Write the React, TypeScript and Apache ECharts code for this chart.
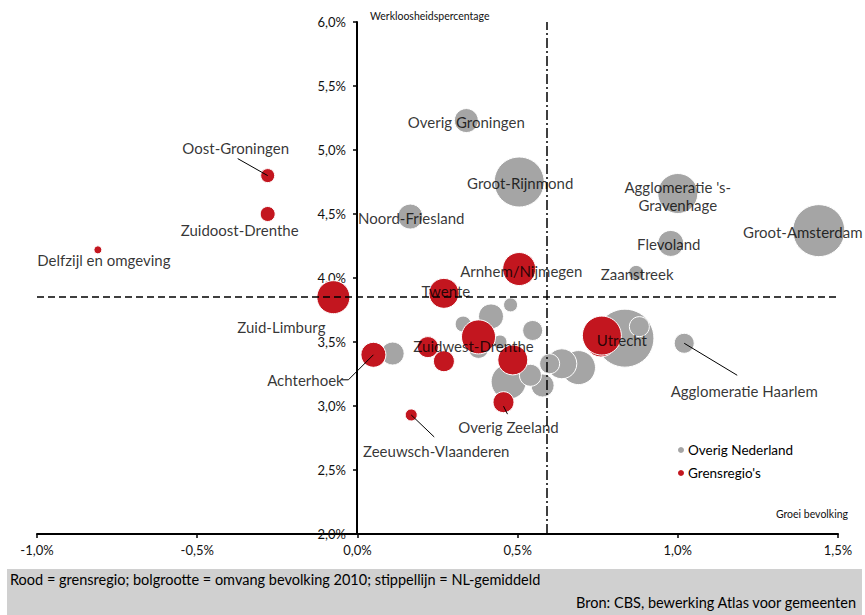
import React, { useEffect, useRef } from "react";
import * as echarts from "echarts";

// Overig Nederland (grey)
const greyNames = [
  "Overig Groningen", "Groot-Rijnmond", "Noord-Friesland", "Agglomeratie 's-\nGravenhage",
  "Flevoland", "Zaanstreek", "Groot-Amsterdam", "Agglomeratie Haarlem", "Utrecht",
  "", "", "", "", "", "", "", "", "", "", "", "", "Zuidwest-Drenthe", "",
];
const greyGrowth = [0.34, 0.505, 0.165, 1.0, 0.978, 0.87, 1.44, 1.02, 0.835, 0.88, 0.69, 0.638, 0.6, 0.578, 0.547, 0.478, 0.417, 0.33, 0.11, 0.472, 0.54, 0.378, 0.445];
const greyUnemp = [5.23, 4.75, 4.48, 4.66, 4.27, 4.04, 4.37, 3.49, 3.53, 3.62, 3.3, 3.33, 3.33, 3.16, 3.59, 3.79, 3.7, 3.64, 3.41, 3.19, 3.24, 3.45, 3.5];
const greySize = [24, 50, 25, 40, 26, 15, 52, 20, 58, 20, 34, 30, 20, 23, 20, 14, 25, 16, 23, 35, 22, 20, 14];

// Grensregio's (red)
const redNames = [
  "Oost-Groningen", "Zuidoost-Drenthe", "Delfzijl en omgeving", "Zuid-Limburg", "Twente",
  "Arnhem/Nijmegen", "Achterhoek", "", "", "", "", "Overig Zeeland", "Zeeuwsch-Vlaanderen", "", "",
];
const redGrowth = [-0.28, -0.28, -0.81, -0.075, 0.27, 0.505, 0.05, 0.22, 0.27, 0.378, 0.485, 0.456, 0.168, 0.76, 0.763];
const redUnemp = [4.8, 4.5, 4.22, 3.85, 3.88, 4.07, 3.4, 3.46, 3.35, 3.54, 3.36, 3.03, 2.93, 3.5, 3.55];
const redSize = [14, 15, 8, 33, 30, 33, 25, 21, 21, 34, 30, 21, 12, 30, 39];

const nlAvgGrowth = 0.59;
const nlAvgUnemp = 3.85;

const xTicks = { min: -1, max: 1.5, interval: 0.5 };
const yTicks = { min: 2, max: 6, interval: 0.5 };

// label offsets (px) relative to bubble centre
const labelOffsets: Record<string, [number, number]> = {
  "Oost-Groningen": [-32, -28],
  "Zuidoost-Drenthe": [-28, 16],
  "Delfzijl en omgeving": [6, 10],
  "Zuid-Limburg": [-52, 30],
  "Achterhoek": [-68, 25],
  "Overig Zeeland": [5, 25],
  "Zeeuwsch-Vlaanderen": [25, 36],
  "Agglomeratie Haarlem": [60, 48],
  "Groot-Amsterdam": [-16, 1],
  "Twente": [2, -2],
  "Arnhem/Nijmegen": [2, 2],
  "Zuidwest-Drenthe": [-5, -2],
  "Utrecht": [-3, 2],
  "Noord-Friesland": [1, 1],
  "Overig Groningen": [0, 1],
  "Groot-Rijnmond": [1, 1],
  "Flevoland": [-2, 1],
  "Zaanstreek": [1, 1],
  "Agglomeratie 's-\nGravenhage": [0, 2],
};
// leader line shapes (px, relative to bubble centre)
const leaderShapes: Record<string, [number, number][]> = {
  "Oost-Groningen": [[-30, -17], [0, 0]],
  "Achterhoek": [[-32, 25], [-25, 25], [0, 0]],
  "Overig Zeeland": [[0, 4], [4, 12]],
  "Zeeuwsch-Vlaanderen": [[0, 0], [23, 22]],
  "Agglomeratie Haarlem": [[0, 0], [53, 32]],
};

const FONT = "Lato, 'Open Sans', sans-serif";
const GREY = "#A5A5A5";
const RED = "#C3161F";

function buildData(xs: number[], ys: number[], sizes: number[]) {
  return xs.map((x, i) => [x, ys[i], sizes[i]]);
}

const fmt = (v: number) => v.toFixed(1).replace(".", ",") + "%";

export default function App() {
  const ref = useRef<HTMLDivElement>(null);
  useEffect(() => {
    if (!ref.current) return;
    const chart = echarts.init(ref.current, undefined, { renderer: "svg" });

    const labelled: any[] = [];
    const leaders: any[] = [];
    const collect = (names: string[], xs: number[], ys: number[], sizes: number[]) => {
      names.forEach((n, i) => {
        if (!n) return;
        const o = labelOffsets[n] || [0, 0];
        labelled.push({ name: n, value: [xs[i], ys[i], sizes[i]], label: { offset: o } });
        if (leaderShapes[n]) leaders.push({ name: n, value: [xs[i], ys[i]] });
      });
    };
    collect(greyNames, greyGrowth, greyUnemp, greySize);
    collect(redNames, redGrowth, redUnemp, redSize);

    chart.setOption({
      animation: false,
      textStyle: { fontFamily: FONT },
      grid: { left: 37, right: 27, top: 22, bottom: 81, containLabel: false },
      xAxis: {
        type: "value",
        min: xTicks.min,
        max: xTicks.max,
        interval: xTicks.interval,
        splitLine: { show: false },
        axisLine: { show: true, onZero: false, lineStyle: { color: "#000", width: 2 } },
        axisTick: { show: true, length: 4, lineStyle: { color: "#000", width: 1.5 } },
        axisLabel: { formatter: fmt, color: "#111", fontSize: 13, margin: 9, fontFamily: FONT },
      },
      yAxis: {
        type: "value",
        min: yTicks.min,
        max: yTicks.max,
        interval: yTicks.interval,
        position: "left",
        offset: -320,
        splitLine: { show: false },
        axisLine: { show: true, onZero: false, lineStyle: { color: "#000", width: 2 } },
        axisTick: { show: true, length: 4, lineStyle: { color: "#000", width: 1.5 } },
        axisLabel: { formatter: fmt, color: "#111", fontSize: 13, margin: 11, fontFamily: FONT },
      },
      legend: {
        orient: "vertical",
        left: 671,
        top: 438,
        itemWidth: 8,
        itemHeight: 8,
        itemGap: 9,
        icon: "circle",
        textStyle: { fontSize: 13.5, color: "#000", fontFamily: FONT, padding: [0, 0, 0, -2] },
        data: ["Overig Nederland", "Grensregio's"],
      },
      series: [
        {
          type: "line",
          data: [],
          silent: true,
          z: 1,
          markLine: {
            silent: true,
            symbol: "none",
            label: { show: false },
            data: [
              { yAxis: nlAvgUnemp, lineStyle: { color: "#000", width: 1.5, type: [7, 4] } },
              { xAxis: nlAvgGrowth, lineStyle: { color: "#000", width: 1.5, type: [10, 3, 2, 3] } },
            ],
          },
        },
        {
          name: "Overig Nederland",
          type: "scatter",
          z: 3,
          data: buildData(greyGrowth, greyUnemp, greySize),
          symbolSize: (v: number[]) => v[2],
          itemStyle: { color: GREY, borderColor: "#fff", borderWidth: 1, opacity: 1 },
        },
        {
          name: "Grensregio's",
          type: "scatter",
          z: 4,
          data: buildData(redGrowth, redUnemp, redSize),
          symbolSize: (v: number[]) => v[2],
          itemStyle: { color: RED, borderColor: "#fff", borderWidth: 1, opacity: 1 },
        },
        {
          name: "leaders",
          type: "custom",
          z: 5,
          silent: true,
          data: leaders,
          renderItem: (params: any, api: any) => {
            const c = api.coord([api.value(0), api.value(1)]);
            const shape = leaderShapes[leaders[params.dataIndex].name];
            return {
              type: "polyline",
              shape: { points: shape.map(([dx, dy]) => [c[0] + dx, c[1] + dy]) },
              style: { stroke: "#000", lineWidth: 1, fill: null },
            };
          },
        },
        {
          name: "labels",
          type: "scatter",
          z: 6,
          silent: true,
          data: labelled,
          symbolSize: (v: number[]) => v[2],
          itemStyle: { color: "rgba(0,0,0,0)", borderWidth: 0 },
          label: {
            show: true,
            position: "inside",
            color: "#000",
            fontSize: 15,
            fontFamily: FONT,
            lineHeight: 18,
            formatter: (p: any) => p.name,
          },
        },
      ],
      graphic: [
        {
          type: "text",
          left: 370,
          top: 10,
          style: { text: "Werkloosheidspercentage", fontSize: 10.5, fill: "#111", fontFamily: FONT },
        },
        {
          type: "text",
          right: 17,
          top: 508,
          style: { text: "Groei bevolking", fontSize: 10.5, fill: "#111", fontFamily: FONT },
        },
        {
          type: "rect",
          shape: { x: 7, y: 569, width: 855, height: 46 },
          style: { fill: "#D0D0D0" },
          z: 0,
        },
        {
          type: "text",
          x: 10,
          y: 572,
          style: {
            text: "Rood = grensregio; bolgrootte = omvang bevolking 2010; stippellijn = NL-gemiddeld",
            fontSize: 14.5,
            fill: "#000",
            fontFamily: FONT,
          },
        },
        {
          type: "text",
          x: 856,
          y: 595,
          style: {
            text: "Bron: CBS, bewerking Atlas voor gemeenten",
            fontSize: 14.5,
            fill: "#000",
            fontFamily: FONT,
            align: "right",
          },
        },
      ],
    });
    return () => chart.dispose();
  }, []);
  return (
    <div
      ref={ref}
      style={{ position: "absolute", left: 0, top: 0, width: 865, height: 615, background: "#fff" }}
    />
  );
}
